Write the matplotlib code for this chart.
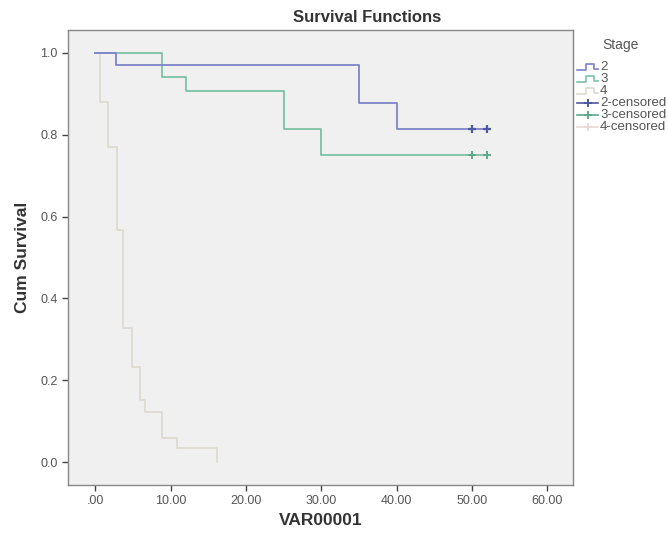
import matplotlib
matplotlib.use("Agg")
import matplotlib.pyplot as plt
from matplotlib.lines import Line2D

plt.rcParams['font.family'] = ['Liberation Sans', 'DejaVu Sans']

# Data
stage2_t = [0.0, 2.8, 35.0, 40.0, 52.0]
stage2_s = [1.0, 0.971, 0.878, 0.814, 0.814]
stage2_cens_t = [50.0, 52.0]
stage2_cens_s = [0.814, 0.814]

stage3_t = [0.0, 8.9, 12.0, 25.0, 30.0, 52.0]
stage3_s = [1.0, 0.94, 0.908, 0.815, 0.75, 0.75]
stage3_cens_t = [50.0, 52.0]
stage3_cens_s = [0.75, 0.75]

stage4_t = [0.0, 0.7, 1.7, 2.9, 3.7, 4.9, 6.0, 6.6, 8.9, 10.9, 16.2]
stage4_s = [1.0, 0.88, 0.77, 0.567, 0.328, 0.232, 0.152, 0.122, 0.059, 0.034, 0.0]

xticks = [0, 10, 20, 30, 40, 50, 60]
xtick_labels = ['.00', '10.00', '20.00', '30.00', '40.00', '50.00', '60.00']
yticks = [0.0, 0.2, 0.4, 0.6, 0.8, 1.0]
ytick_labels = ['0.0', '0.2', '0.4', '0.6', '0.8', '1.0']

legend_labels = ['2', '3', '4', '2-censored', '3-censored', '4-censored']

c2 = '#7c84c8'
c3 = '#7cc2a6'
c4 = '#dedad0'
c2m = '#4f58a0'
c3m = '#5fa88c'
c4m = '#ecd8d8'

fig = plt.figure(figsize=(6.68, 5.37), dpi=100)
ax = fig.add_axes([68/668, 1-485/537, (573-68)/668, (485-30)/537])
ax.set_facecolor('#f0f0f0')

ax.step(stage4_t, stage4_s, where='post', color=c4, lw=1.3)
ax.step(stage3_t, stage3_s, where='post', color=c3, lw=1.3)
ax.step(stage2_t, stage2_s, where='post', color=c2, lw=1.3)
ax.plot(stage2_cens_t, stage2_cens_s, ls='none', marker='+', ms=6, mew=1.6, color=c2m)
ax.plot(stage3_cens_t, stage3_cens_s, ls='none', marker='+', ms=6, mew=1.4, color=c3m)

ax.set_xlim(-3.6, 63.4)
ax.set_ylim(-0.056, 1.056)
ax.set_xticks(xticks)
ax.set_xticklabels(xtick_labels)
ax.set_yticks(yticks)
ax.set_yticklabels(ytick_labels)
ax.tick_params(direction='out', length=4, width=1, colors='#444444', labelcolor='#555555', labelsize=9)
for sp in ax.spines.values():
    sp.set_color('#888888')
    sp.set_linewidth(1.0)

ax.set_xlabel('VAR00001', fontsize=12.5, fontweight='bold', color='#333333', labelpad=4)
ax.set_ylabel('Cum Survival', fontsize=12.5, fontweight='bold', color='#333333', labelpad=7)

fig.text(367/668, 1-18/537, 'Survival Functions', ha='center', va='center',
         fontsize=12, fontweight='bold', color='#333333')

# Legend (manual, SPSS style)
fig.text(602/668, 1-45/537, 'Stage', ha='left', va='center', fontsize=10, color='#555555')
ys = [67, 79, 91, 103, 115, 127]
colors = [c2, c3, c4, c2m, c3m, c4m]
for i, (lab, y, col) in enumerate(zip(legend_labels, ys, colors)):
    yf = 1 - y/537
    if i < 3:
        xs = [577, 586, 586, 594, 594, 598]
        yy = [y+3, y+3, y-3, y-3, y+2, y+2]
        fig.add_artist(Line2D([v/668 for v in xs], [1 - v/537 for v in yy], color=col, lw=1.2))
    else:
        fig.add_artist(Line2D([577/668, 598/668], [yf, yf], color=col, lw=1.2))
        fig.add_artist(Line2D([587.5/668], [yf], marker='+', ms=6, mew=1.4, color=col, ls='none'))
    fig.text(600/668, yf, lab, ha='left', va='center', fontsize=9.5, color='#555555')

fig.savefig('out.png', dpi=100, facecolor='white')
